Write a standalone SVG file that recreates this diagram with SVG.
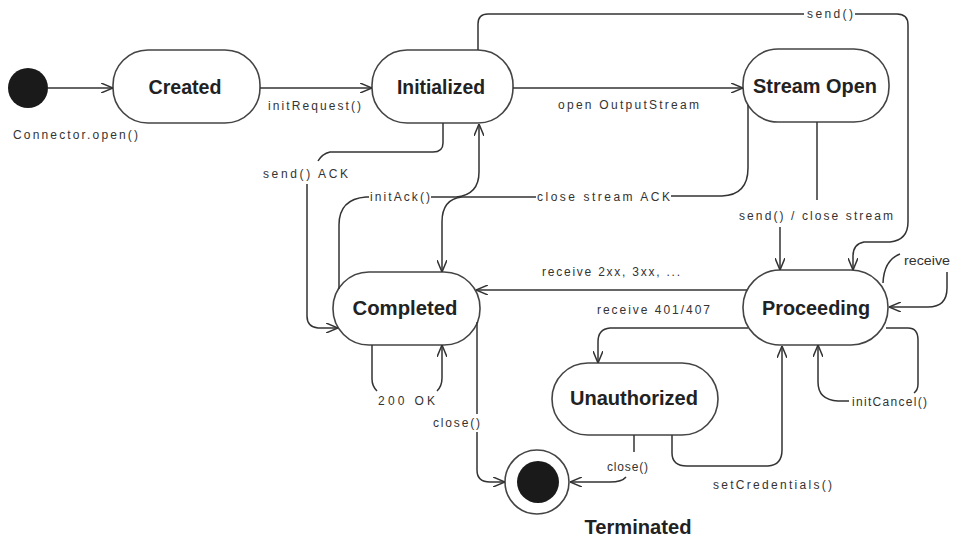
<svg xmlns="http://www.w3.org/2000/svg" width="953" height="539" viewBox="0 0 953 539">
<defs>
<marker id="ah" viewBox="0 0 12 10" refX="12" refY="5" markerWidth="12" markerHeight="10" markerUnits="userSpaceOnUse" orient="auto">
<path d="M0,0 L12,5 L0,10" fill="none" stroke="#333" stroke-width="1.5"/>
</marker>
<style>
.st{fill:#fff;stroke:#444;stroke-width:1.6}
.nm{font-family:"Liberation Sans",Arial,sans-serif;font-weight:bold;font-size:20px;fill:#222;text-anchor:middle}
.lb{font-family:"Liberation Sans",Arial,sans-serif;font-size:12px;fill:#333}
.c{fill:none;stroke:#333;stroke-width:1.5}
.a{marker-end:url(#ah)}
</style>
</defs>
<rect width="953" height="539" fill="#fff"/>

<g id="initial">
<circle cx="28" cy="88" r="20" fill="#1a1a1a"/>
<text class="lb" x="13" y="138.5" textLength="125" lengthAdjust="spacing">Connector.open()</text>
</g>

<g id="created">
<rect class="st" x="113" y="50" width="147" height="73" rx="35"/>
<text class="nm" x="185" y="94" textLength="73" lengthAdjust="spacingAndGlyphs">Created</text>
</g>

<g id="initialized">
<rect class="st" x="372" y="50" width="141" height="73" rx="35"/>
<text class="nm" x="441" y="94" textLength="88" lengthAdjust="spacingAndGlyphs">Initialized</text>
</g>

<g id="streamopen">
<rect class="st" x="743" y="49" width="146" height="73" rx="35"/>
<text class="nm" x="815" y="93" textLength="124" lengthAdjust="spacingAndGlyphs">Stream Open</text>
</g>

<g id="completed">
<rect class="st" x="333" y="272" width="147" height="73" rx="36"/>
<text class="nm" x="405" y="315" textLength="105" lengthAdjust="spacingAndGlyphs">Completed</text>
</g>

<g id="proceeding">
<rect class="st" x="743" y="270" width="145" height="75" rx="37"/>
<text class="nm" x="816" y="315" textLength="108" lengthAdjust="spacingAndGlyphs">Proceeding</text>
</g>

<g id="unauthorized">
<rect class="st" x="552" y="363" width="166" height="72" rx="36"/>
<text class="nm" x="634" y="405" textLength="128" lengthAdjust="spacingAndGlyphs">Unauthorized</text>
</g>

<g id="terminated">
<circle cx="537" cy="482" r="32" fill="#fff" stroke="#444" stroke-width="1.6"/>
<circle cx="538" cy="482" r="21" fill="#1a1a1a"/>
<text class="nm" x="638" y="534" textLength="107" lengthAdjust="spacingAndGlyphs">Terminated</text>
</g>

<g id="connectors">
<path class="c a" d="M48,88 H113"/>
<path class="c a" d="M260,88 H372"/>
<path class="c a" d="M513,88 H743"/>
<path class="c" d="M478,50 V24 Q478,14 488,14 H804"/>
<path class="c a" d="M855,14 H897 Q908,14 908,25 V222 Q908,240 890,242 H864 Q853,244 853,256 V270"/>
<path class="c" d="M443,123 V143 Q443,152 433,152 H330 Q322,154 318,161"/>
<path class="c a" d="M307,184 V316 Q307,327 318,328 H338"/>
<path class="c" d="M339,289 V225 Q339,199 366,197 H369"/>
<path class="c a" d="M431,197 H456 Q479,195 479,172 V124"/>
<path class="c" d="M748,105 V168 Q748,195 722,196 H671"/>
<path class="c a" d="M536,197 H462 Q442,199 442,222 V272"/>
<path class="c" d="M817,122 V200"/>
<path class="c a" d="M780,227 V270"/>
<path class="c a" d="M747,290 H476"/>
<path class="c a" d="M748,328 H610 Q598,329 598,342 V363"/>
<path class="c a" d="M672,435 V453 Q672,466 687,466 H768 Q782,465 782,450 V346"/>
<path class="c" d="M634,435 V452"/>
<path class="c a" d="M626,477 Q622,482 610,482 H570"/>
<path class="c" d="M477,322 V414"/>
<path class="c a" d="M477,432 V470 Q477,482 490,482 H505"/>
<path class="c" d="M372,345 V379 Q372,386 377,391"/>
<path class="c a" d="M437,391 Q442,386 442,378 V345"/>
<path class="c" d="M883,283 Q884,260 900,254"/>
<path class="c a" d="M947,272 V288 Q947,307 928,307 H889"/>
<path class="c" d="M886,328 H908 Q918,328 918,340 V384 Q918,390 914,393"/>
<path class="c a" d="M849,401 H838 Q818,400 818,382 V345"/>
<text class="lb" x="268" y="110" textLength="93" lengthAdjust="spacing">initRequest()</text>
<text class="lb" x="558" y="108.5" textLength="141" lengthAdjust="spacing">open OutputStream</text>
<text class="lb" x="807" y="18" textLength="46" lengthAdjust="spacing">send()</text>
<text class="lb" x="263" y="178" textLength="85" lengthAdjust="spacing">send() ACK</text>
<text class="lb" x="370" y="201" textLength="60" lengthAdjust="spacing">initAck()</text>
<text class="lb" x="537" y="201" textLength="133" lengthAdjust="spacing">close stream ACK</text>
<text class="lb" x="739" y="220" textLength="154" lengthAdjust="spacing">send() / close stream</text>
<text class="lb" x="542" y="275.5" textLength="138" lengthAdjust="spacing">receive 2xx, 3xx, ...</text>
<text class="lb" x="597" y="313.5" textLength="113" lengthAdjust="spacing">receive 401/407</text>
<text class="lb" x="904" y="265" textLength="46" lengthAdjust="spacingAndGlyphs">receive</text>
<text class="lb" x="852" y="405.5" textLength="75" lengthAdjust="spacing">initCancel()</text>
<text class="lb" x="378" y="405" textLength="57" lengthAdjust="spacing">200 OK</text>
<text class="lb" x="433" y="426.5" textLength="47" lengthAdjust="spacing">close()</text>
<text class="lb" x="607" y="470.5" textLength="41" lengthAdjust="spacing">close()</text>
<text class="lb" x="713" y="488.5" textLength="119" lengthAdjust="spacing">setCredentials()</text>
</g>
</svg>
